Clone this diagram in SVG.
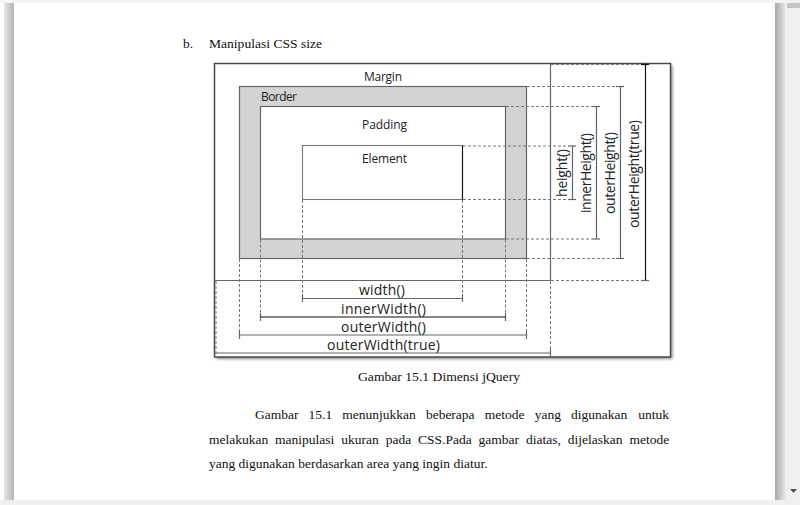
<svg xmlns="http://www.w3.org/2000/svg" width="800" height="505" viewBox="0 0 800 505">
<defs>
<style>
.dash{stroke:#777;stroke-width:1;stroke-dasharray:3 2;fill:none}
.tick{stroke:#666;stroke-width:1.2}
.meas{stroke:#666;stroke-width:1.2}
.dark{stroke:#111}
.box{stroke:#666;stroke-width:1.2}
.lbl{font-family:"Open Sans","DejaVu Sans",sans-serif;font-size:12px;fill:#222}
.mlbl{font-family:"Open Sans","DejaVu Sans",sans-serif;font-size:14px;fill:#222}
.serif{font-family:"Liberation Serif","Times New Roman",serif;font-size:13.5px;fill:#111}
</style>
<linearGradient id="lsh" x1="0" y1="0" x2="1" y2="0">
<stop offset="0" stop-color="#e6e6e6"/><stop offset="1" stop-color="#b4b4b4"/>
</linearGradient>
<linearGradient id="rsh" x1="0" y1="0" x2="1" y2="0">
<stop offset="0" stop-color="#a8a8a8"/><stop offset="1" stop-color="#e4e4e4"/>
</linearGradient>
<filter id="blur" x="-5%" y="-5%" width="110%" height="110%"><feGaussianBlur stdDeviation="1.5"/></filter>
</defs>

<!-- page chrome -->
<rect x="0" y="0" width="800" height="505" fill="#ffffff"/>
<rect x="0" y="0" width="800" height="3" fill="#f5f5f5"/>
<rect x="4" y="3" width="10" height="497" fill="url(#lsh)"/>
<rect x="775" y="3" width="10" height="497" fill="url(#rsh)"/>
<rect x="785" y="0" width="15" height="505" fill="#f0f0f0"/>
<rect x="787" y="3" width="13" height="5" fill="#c4c4c4"/>
<rect x="0" y="500" width="785" height="5" fill="#f0f0f0"/>
<polygon points="790,489 797,489 793.5,493" fill="#505050"/>

<!-- page text -->
<text class="serif" x="183" y="48">b.</text>
<text class="serif" x="209" y="48" textLength="113" lengthAdjust="spacingAndGlyphs">Manipulasi CSS size</text>

<!-- diagram frame -->
<g id="frame">
<rect x="216.5" y="65.5" width="456" height="293.5" fill="#8a8a8a" filter="url(#blur)"/>
<rect x="214.5" y="63.5" width="456" height="293.5" fill="#ffffff" stroke="#4a4a4a" stroke-width="1.5"/>
</g>

<g id="node-margin">
<line x1="550.5" y1="64" x2="550.5" y2="280.5" class="box"/>
<line x1="214.5" y1="280.5" x2="550.5" y2="280.5" class="box"/>
<text class="lbl" x="383" y="80.5" text-anchor="middle" textLength="38">Margin</text>
</g>

<g id="node-border">
<rect x="239.5" y="86.5" width="287" height="172" fill="#d3d3d3" class="box"/>
<text class="lbl" x="261" y="101" textLength="36">Border</text>
</g>

<g id="node-padding">
<rect x="260.5" y="106.5" width="245" height="132.5" fill="#ffffff" class="box"/>
<text class="lbl" x="384.5" y="129" text-anchor="middle" textLength="45">Padding</text>
</g>

<g id="node-element">
<rect x="302.5" y="145.5" width="160" height="54" fill="#ffffff" stroke="#777" stroke-width="1.1"/>
<line x1="462.5" y1="145.5" x2="462.5" y2="199.5" stroke="#111" stroke-width="1.1"/>
<text class="lbl" x="384.5" y="162.5" text-anchor="middle" textLength="45">Element</text>
</g>

<g id="connectors">
<g id="m-height">
<line class="dash" x1="463" y1="146" x2="568" y2="146"/>
<line class="tick" x1="568" y1="146" x2="576" y2="146"/>
<line class="meas" x1="572.5" y1="146" x2="572.5" y2="199.5"/>
<line class="dash" x1="463" y1="199.5" x2="568" y2="199.5"/>
<line class="tick" x1="568" y1="199.5" x2="576" y2="199.5"/>
<text class="mlbl" transform="translate(567,173) rotate(-90)" text-anchor="middle" textLength="48">height()</text>
</g>
<g id="m-innerHeight">
<line class="dash" x1="506" y1="106.5" x2="592" y2="106.5"/>
<line class="tick" x1="592" y1="106.5" x2="600" y2="106.5"/>
<line class="meas" x1="596.5" y1="106.5" x2="596.5" y2="239"/>
<line class="dash" x1="506" y1="239" x2="592" y2="239"/>
<line class="tick" x1="592" y1="239" x2="600" y2="239"/>
<text class="mlbl" transform="translate(590.5,173) rotate(-90)" text-anchor="middle" textLength="80">innerHeight()</text>
</g>
<g id="m-outerHeight">
<line class="dash" x1="527" y1="86.5" x2="616" y2="86.5"/>
<line class="tick" x1="616" y1="86.5" x2="624" y2="86.5"/>
<line class="meas" x1="620.5" y1="86.5" x2="620.5" y2="258.5"/>
<line class="dash" x1="527" y1="258.5" x2="616" y2="258.5"/>
<line class="tick" x1="616" y1="258.5" x2="624" y2="258.5"/>
<text class="mlbl" transform="translate(614.5,173) rotate(-90)" text-anchor="middle" textLength="82">outerHeight()</text>
</g>
<g id="m-outerHeightTrue">
<line class="dash" x1="551" y1="64.5" x2="641" y2="64.5"/>
<line class="tick dark" x1="641" y1="64.5" x2="649" y2="64.5"/>
<line class="meas dark" x1="645.5" y1="64.5" x2="645.5" y2="280.5"/>
<line class="dash" x1="551" y1="280.5" x2="641" y2="280.5"/>
<line class="tick" x1="641" y1="280.5" x2="649" y2="280.5"/>
<text class="mlbl" transform="translate(639,174) rotate(-90)" text-anchor="middle" textLength="108">outerHeight(true)</text>
</g>

<g id="m-width">
<line class="dash" x1="302.5" y1="200" x2="302.5" y2="294"/>
<line class="tick" x1="302.5" y1="294" x2="302.5" y2="302"/>
<line class="dash" x1="462.5" y1="200" x2="462.5" y2="294"/>
<line class="tick" x1="462.5" y1="294" x2="462.5" y2="302"/>
<line class="meas" x1="302.5" y1="298.5" x2="462.5" y2="298.5"/>
<text class="mlbl" x="382" y="295" text-anchor="middle" textLength="46">width()</text>
</g>
<g id="m-innerWidth">
<line class="dash" x1="260.5" y1="239.5" x2="260.5" y2="313"/>
<line class="tick" x1="260.5" y1="313" x2="260.5" y2="321"/>
<line class="dash" x1="505.5" y1="239.5" x2="505.5" y2="313"/>
<line class="tick" x1="505.5" y1="313" x2="505.5" y2="321"/>
<line class="meas dark" x1="260.5" y1="317" x2="505.5" y2="317"/>
<text class="mlbl" x="383.5" y="313.5" text-anchor="middle" textLength="85">innerWidth()</text>
</g>
<g id="m-outerWidth">
<line class="dash" x1="239.5" y1="259" x2="239.5" y2="331"/>
<line class="tick" x1="239.5" y1="331" x2="239.5" y2="339"/>
<line class="dash" x1="526.5" y1="259" x2="526.5" y2="331"/>
<line class="tick" x1="526.5" y1="331" x2="526.5" y2="339"/>
<line class="meas" x1="239.5" y1="335" x2="526.5" y2="335"/>
<text class="mlbl" x="383.5" y="331.5" text-anchor="middle" textLength="85">outerWidth()</text>
</g>
<g id="m-outerWidthTrue">
<line class="dash" x1="216" y1="281" x2="216" y2="356"/>
<line class="dash" x1="550.5" y1="281" x2="550.5" y2="349"/>
<line class="tick" x1="550.5" y1="349" x2="550.5" y2="357"/>
<line class="meas" x1="215" y1="353" x2="550.5" y2="353"/>
<text class="mlbl" x="383.5" y="349.5" text-anchor="middle" textLength="113">outerWidth(true)</text>
</g>
</g>

<!-- caption and paragraph -->
<text class="serif" x="439" y="381" text-anchor="middle" textLength="162" lengthAdjust="spacingAndGlyphs">Gambar 15.1 Dimensi jQuery</text>
<text class="serif" y="419">
<tspan x="255">Gambar</tspan><tspan x="308.6">15.1</tspan><tspan x="342.3">menunjukkan</tspan><tspan x="425.9">beberapa</tspan><tspan x="484.8">metode</tspan><tspan x="534.7">yang</tspan><tspan x="571.1">digunakan</tspan><tspan x="638.2">untuk</tspan>
</text>
<text class="serif" y="443.5">
<tspan x="209">melakukan</tspan><tspan x="275.1">manipulasi</tspan><tspan x="341.3">ukuran</tspan><tspan x="385.7">pada</tspan><tspan x="418.1">CSS.Pada</tspan><tspan x="478.6">gambar</tspan><tspan x="526">diatas,</tspan><tspan x="567.8">dijelaskan</tspan><tspan x="629.5">metode</tspan>
</text>
<text class="serif" x="209" y="468">yang digunakan berdasarkan area yang ingin diatur.</text>
</svg>
